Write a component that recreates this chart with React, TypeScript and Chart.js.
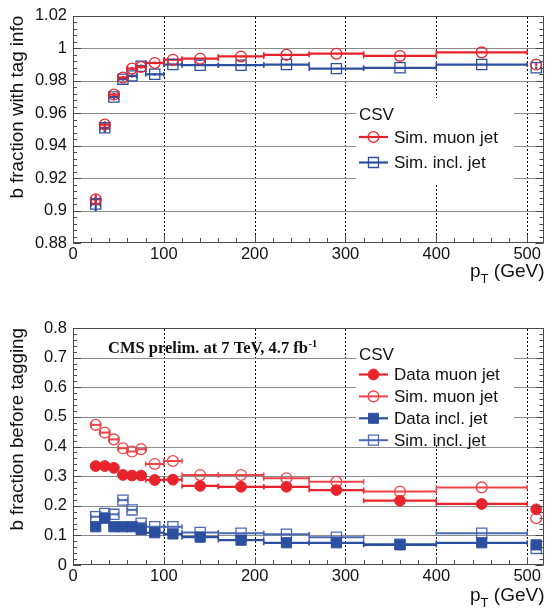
import React, { useEffect, useRef } from "react";
import { Chart, registerables } from "chart.js";

Chart.register(...registerables);

// ---------- data ----------
const binCenters = [25, 35, 45, 55, 65, 75, 90, 110, 140, 185, 235, 290, 360, 450, 510];
const binLow = [20, 30, 40, 50, 60, 70, 80, 100, 120, 160, 210, 260, 320, 400, 510];
const binHigh = [30, 40, 50, 60, 70, 80, 100, 120, 160, 210, 260, 320, 400, 500, 510];

// top panel: b fraction with tag info
const tagSimMuon = [0.907, 0.953, 0.9715, 0.982, 0.9875, 0.9885, 0.991, 0.993, 0.9936, 0.995, 0.996, 0.9967, 0.9953, 0.9975, 0.99];
const tagSimMuonErr = [0.003, 0.002, 0.001, 0.001, 0.001, 0.001, 0.0008, 0.0006, 0.0005, 0.0005, 0.0005, 0.0005, 0.0005, 0.0005, 0.0008];
const tagSimIncl = [0.904, 0.951, 0.97, 0.981, 0.983, 0.989, 0.984, 0.99, 0.9896, 0.9896, 0.99, 0.9875, 0.988, 0.99, 0.988];
const tagSimInclErr = [0.0045, 0.003, 0.0015, 0.001, 0.001, 0.001, 0.0008, 0.0006, 0.0005, 0.0005, 0.0005, 0.0005, 0.0005, 0.0005, 0.0008];

// bottom panel: b fraction before tagging
const preDataMuon = [0.334, 0.334, 0.328, 0.304, 0.302, 0.302, 0.287, 0.288, 0.267, 0.264, 0.264, 0.253, 0.217, 0.206, 0.188];
const preSimMuon = [0.473, 0.447, 0.424, 0.394, 0.383, 0.391, 0.341, 0.351, 0.304, 0.304, 0.293, 0.281, 0.248, 0.262, 0.158];
const preDataIncl = [0.129, 0.158, 0.129, 0.129, 0.129, 0.12, 0.109, 0.105, 0.094, 0.084, 0.075, 0.075, 0.068, 0.075, 0.068];
const preSimIncl = [0.163, 0.174, 0.171, 0.219, 0.186, 0.141, 0.129, 0.129, 0.11, 0.107, 0.104, 0.094, 0.07, 0.107, 0.056];

const xTickValues = [0, 100, 200, 300, 400, 500];
const tagYTicks = [0.88, 0.9, 0.92, 0.94, 0.96, 0.98, 1, 1.02];
const preYTicks = [0, 0.1, 0.2, 0.3, 0.4, 0.5, 0.6, 0.7, 0.8];

// ---------- styles ----------
const FONT = '"Liberation Sans", Arial, Helvetica, sans-serif';
const SERIF = '"Liberation Serif", "Times New Roman", serif';
const RED = "#e8232b";
const RED_LIGHT = "#ee4448";
const BLUE = "#2d4f9f";
const BLUE_LIGHT = "#4a69b5";
const TEXT = "#111111";

function points(vals: number[], errs?: number[]) {
  return binCenters.map((x, i) => ({ x, y: vals[i], xl: binLow[i], xh: binHigh[i], ye: errs ? errs[i] : 0 }));
}

function series(label: string, vals: number[], errs: number[] | undefined, color: string, style: string, filled: boolean) {
  return {
    label,
    data: points(vals, errs),
    showLine: false,
    pointStyle: style,
    pointRadius: style === "circle" ? 5.4 : 7.2,
    pointHoverRadius: style === "circle" ? 5.4 : 7.2,
    pointBorderWidth: filled ? 1 : 1.3,
    pointBorderColor: color,
    pointBackgroundColor: filled ? color : "rgba(0,0,0,0)",
    borderColor: color,
    backgroundColor: filled ? color : "rgba(0,0,0,0)",
    errWidth: filled ? 2.2 : 2,
    filled,
    markerStyle: style,
  };
}

function drawMarker(ctx: CanvasRenderingContext2D, style: string, filled: boolean, color: string, x: number, y: number) {
  ctx.save();
  ctx.strokeStyle = color;
  ctx.fillStyle = color;
  ctx.lineWidth = filled ? 1 : 1.3;
  ctx.beginPath();
  if (style === "circle") {
    ctx.arc(x, y, 5.4, 0, Math.PI * 2);
  } else {
    const s = 5;
    ctx.rect(x - s, y - s, 2 * s, 2 * s);
  }
  if (filled) ctx.fill();
  ctx.stroke();
  ctx.restore();
}

function makeRootPlugin(cfg: any) {
  return {
    id: "rootStyle",
    beforeDatasetsDraw(chart: any) {
      const { ctx, chartArea: a, scales } = chart;
      const x = scales.x;
      const y = scales.y;
      ctx.save();
      // dotted vertical grid
      ctx.strokeStyle = "#000000";
      ctx.lineWidth = 1;
      ctx.setLineDash([2, 2]);
      ctx.beginPath();
      for (const v of cfg.xGrid) {
        const px = Math.round(x.getPixelForValue(v)) + 0.5;
        ctx.moveTo(px, Math.round(a.top) + 1);
        ctx.lineTo(px, Math.round(a.bottom) - 1);
      }
      ctx.stroke();
      ctx.setLineDash([]);
      // horizontal grid (fine dotted, drawn as light solid tone)
      ctx.fillStyle = "#8c8c8c";
      for (const v of cfg.yGrid) {
        const py = Math.round(y.getPixelForValue(v));
        ctx.fillRect(Math.round(a.left) + 1, py, Math.round(a.right - a.left) - 2, 1);
      }
      // legend background (covers grid)
      const lg = cfg.legend;
      ctx.fillStyle = "#ffffff";
      ctx.fillRect(lg.box[0], lg.box[1], lg.box[2] - lg.box[0], lg.box[3] - lg.box[1]);
      // error bars (bin width + stat)
      const dsList = chart.data.datasets.slice().reverse();
      for (const ds of dsList) {
        ctx.strokeStyle = ds.borderColor;
        for (const p of ds.data) {
          const py = y.getPixelForValue(p.y);
          if (p.xh > p.xl) {
            const x0 = x.getPixelForValue(p.xl);
            const x1 = x.getPixelForValue(p.xh);
            ctx.lineWidth = ds.errWidth;
            ctx.beginPath();
            ctx.moveTo(x0, py);
            ctx.lineTo(x1, py);
            ctx.stroke();
            ctx.lineWidth = 1.5;
            ctx.beginPath();
            ctx.moveTo(x0, py - 2.5);
            ctx.lineTo(x0, py + 2.5);
            ctx.moveTo(x1, py - 2.5);
            ctx.lineTo(x1, py + 2.5);
            ctx.stroke();
          }
          if (p.ye) {
            const px = x.getPixelForValue(p.x);
            const y0 = y.getPixelForValue(p.y - p.ye);
            const y1 = y.getPixelForValue(p.y + p.ye);
            ctx.lineWidth = ds.errWidth;
            ctx.beginPath();
            ctx.moveTo(px, y0);
            ctx.lineTo(px, y1);
            ctx.stroke();
          }
        }
      }
      ctx.restore();
    },
    afterDatasetsDraw(chart: any) {
      const { ctx, chartArea: a, scales } = chart;
      const x = scales.x;
      const y = scales.y;
      ctx.save();
      // frame
      ctx.strokeStyle = "#4a4a4a";
      ctx.lineWidth = 1;
      ctx.strokeRect(Math.round(a.left) + 0.5, Math.round(a.top) + 0.5, Math.round(a.right - a.left) - 1, Math.round(a.bottom - a.top) - 1);
      // y ticks (left & right)
      const yMin = y.min, yMax = y.max;
      const nMinor = Math.round((yMax - yMin) / cfg.yMinor);
      ctx.beginPath();
      for (let i = 0; i <= nMinor; i++) {
        const v = yMin + i * cfg.yMinor;
        const py = Math.round(y.getPixelForValue(v)) + 0.5;
        const r = (v - yMin) / cfg.yMajor;
        const isMajor = Math.abs(r - Math.round(r)) < 1e-6;
        const len = isMajor ? 8 : 4;
        ctx.moveTo(a.left, py);
        ctx.lineTo(a.left + len, py);
        ctx.moveTo(a.right, py);
        ctx.lineTo(a.right - len, py);
      }
      // x ticks (bottom)
      for (let v = 0; v <= x.max; v += 20) {
        const px = Math.round(x.getPixelForValue(v)) + 0.5;
        const len = v % 100 === 0 ? 8 : 5;
        ctx.moveTo(px, a.bottom);
        ctx.lineTo(px, a.bottom - len);
      }
      ctx.stroke();

      // legend
      const lg = cfg.legend;
      ctx.fillStyle = TEXT;
      ctx.font = `17px ${FONT}`;
      ctx.textBaseline = "alphabetic";
      ctx.textAlign = "left";
      ctx.fillText(lg.header, lg.lineX0, lg.headerBaseline);
      chart.data.datasets.forEach((ds: any, i: number) => {
        const ry = lg.rowStart + i * lg.rowStep;
        ctx.strokeStyle = ds.borderColor;
        ctx.lineWidth = ds.errWidth;
        ctx.beginPath();
        ctx.moveTo(lg.lineX0, ry);
        ctx.lineTo(lg.lineX1, ry);
        ctx.stroke();
        drawMarker(ctx, ds.markerStyle, ds.filled, ds.borderColor, (lg.lineX0 + lg.lineX1) / 2, ry);
        ctx.fillStyle = TEXT;
        ctx.font = `17px ${FONT}`;
        ctx.textBaseline = "middle";
        ctx.fillText(ds.label, lg.textX, ry + 1);
      });

      // x title p_T (GeV)
      ctx.textBaseline = "alphabetic";
      ctx.fillStyle = TEXT;
      const big = `19px ${FONT}`;
      const small = `13px ${FONT}`;
      ctx.font = big;
      const wP = ctx.measureText("p").width;
      const wRest = ctx.measureText(" (GeV)").width;
      ctx.font = small;
      const wT = ctx.measureText("T").width;
      const right = a.right + 1;
      let cx = right - (wP + wT + wRest);
      ctx.font = big;
      ctx.fillText("p", cx, cfg.xTitleBaseline);
      cx += wP;
      ctx.font = small;
      ctx.fillText("T", cx, cfg.xTitleBaseline + 6);
      cx += wT;
      ctx.font = big;
      ctx.fillText(" (GeV)", cx, cfg.xTitleBaseline);

      // extra label
      if (cfg.cmsLabel) {
        const c = cfg.cmsLabel;
        ctx.font = `bold 16.5px ${SERIF}`;
        ctx.fillStyle = TEXT;
        ctx.fillText(c.text, c.x, c.y);
        const w = ctx.measureText(c.text).width;
        ctx.font = `bold 10.5px ${SERIF}`;
        ctx.fillText(c.sup, c.x + w + 0.5, c.y - 6);
      }
      ctx.restore();
    },
  };
}

function fmt(v: number) {
  return String(Number(v.toFixed(2)));
}

function makeConfig(opts: {
  datasets: any[];
  yMin: number;
  yMax: number;
  yTicks: number[];
  yTitle: string;
  padTop: number;
  xHeight: number;
  plugin: any;
}) {
  return {
    type: "scatter" as const,
    data: { datasets: opts.datasets },
    options: {
      animation: false as const,
      responsive: false,
      maintainAspectRatio: false,
      events: [],
      layout: { padding: { top: opts.padTop, right: 2, left: 0, bottom: 0 } },
      plugins: {
        legend: { display: false },
        tooltip: { enabled: false },
      },
      scales: {
        x: {
          type: "linear" as const,
          min: 0,
          max: 518,
          afterBuildTicks: (s: any) => {
            s.ticks = xTickValues.map((v) => ({ value: v }));
          },
          afterFit: (s: any) => {
            s.height = opts.xHeight;
          },
          grid: { display: false, drawTicks: false },
          border: { display: false },
          ticks: {
            padding: 2,
            autoSkip: false,
            maxRotation: 0,
            color: TEXT,
            font: { family: FONT, size: 16.5 },
            callback: (v: any) => fmt(Number(v)),
          },
        },
        y: {
          type: "linear" as const,
          min: opts.yMin,
          max: opts.yMax,
          afterBuildTicks: (s: any) => {
            s.ticks = opts.yTicks.map((v) => ({ value: v }));
          },
          afterFit: (s: any) => {
            s.width = 73;
          },
          grid: { display: false, drawTicks: false },
          border: { display: false },
          ticks: {
            padding: 6,
            autoSkip: false,
            color: TEXT,
            font: { family: FONT, size: 16.5 },
            callback: (v: any) => fmt(Number(v)),
          },
          title: {
            display: true,
            text: opts.yTitle,
            align: "end" as const,
            color: TEXT,
            font: { family: FONT, size: 18.8 },
            padding: { top: 6.5, bottom: 0 },
          },
        },
      },
    },
    plugins: [makeRootPlugin(opts.plugin)],
  };
}

export default function App() {
  const topRef = useRef<HTMLCanvasElement>(null);
  const botRef = useRef<HTMLCanvasElement>(null);

  useEffect(() => {
    const topDatasets = [
      series("Sim. muon jet", tagSimMuon, tagSimMuonErr, RED, "circle", false),
      series("Sim. incl. jet", tagSimIncl, tagSimInclErr, BLUE, "rect", false),
    ];
    topDatasets[0].errWidth = 2.2;
    topDatasets[1].errWidth = 2.2;
    const botDatasets = [
      series("Data muon jet", preDataMuon, undefined, RED, "circle", true),
      series("Sim. muon jet", preSimMuon, undefined, RED_LIGHT, "circle", false),
      series("Data incl. jet", preDataIncl, undefined, BLUE, "rect", true),
      series("Sim. incl. jet", preSimIncl, undefined, BLUE_LIGHT, "rect", false),
    ];

    const top = new Chart(
      topRef.current as HTMLCanvasElement,
      makeConfig({
        datasets: topDatasets,
        yMin: 0.88,
        yMax: 1.02,
        yTicks: tagYTicks,
        yTitle: "b fraction with tag info",
        padTop: 6,
        xHeight: 57,
        plugin: {
          yMinor: 0.004,
          yMajor: 0.02,
          xGrid: [100, 200, 300, 400, 500],
          yGrid: [0.9, 0.92, 0.94, 0.96, 0.98, 1],
          xTitleBaseline: 277,
          legend: {
            box: [356, 98, 514, 185],
            header: "CSV",
            headerBaseline: 120,
            rowStart: 137,
            rowStep: 25.5,
            lineX0: 359,
            lineX1: 388,
            textX: 394,
          },
        },
      }) as any
    );

    const bot = new Chart(
      botRef.current as HTMLCanvasElement,
      makeConfig({
        datasets: botDatasets,
        yMin: 0,
        yMax: 0.8,
        yTicks: preYTicks,
        yTitle: "b fraction before tagging",
        padTop: 28,
        xHeight: 49,
        plugin: {
          yMinor: 0.02,
          yMajor: 0.1,
          xGrid: [100, 200, 300, 400, 500],
          yGrid: [0.1, 0.2, 0.3, 0.4, 0.5, 0.6, 0.7],
          xTitleBaseline: 301,
          legend: {
            box: [356, 29, 514, 145],
            header: "CSV",
            headerBaseline: 60,
            rowStart: 74.5,
            rowStep: 21.9,
            lineX0: 359,
            lineX1: 388,
            textX: 394,
          },
          cmsLabel: { text: "CMS prelim. at 7 TeV, 4.7 fb", sup: "-1", x: 108, y: 53 },
        },
      }) as any
    );

    return () => {
      top.destroy();
      bot.destroy();
    };
  }, []);

  return (
    <div style={{ position: "absolute", left: 0, top: 0, width: 552, height: 614, background: "#fff" }}>
      <canvas ref={topRef} width={552} height={300} style={{ position: "absolute", left: 0, top: 0, display: "block" }} />
      <canvas ref={botRef} width={552} height={314} style={{ position: "absolute", left: 0, top: 300, display: "block" }} />
    </div>
  );
}
